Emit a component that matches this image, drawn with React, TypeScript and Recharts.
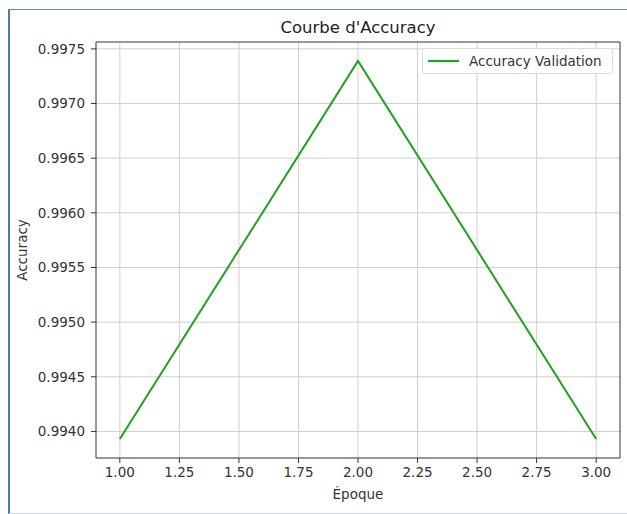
import React from 'react';
import { LineChart, Line, XAxis, YAxis, CartesianGrid, ReferenceLine } from 'recharts';

const epochs = [1, 2, 3];
const accuracyValidation = [0.99393, 0.99739, 0.99393];
const xTicks = [1, 1.25, 1.5, 1.75, 2, 2.25, 2.5, 2.75, 3];
const yTicks = [0.994, 0.9945, 0.995, 0.9955, 0.996, 0.9965, 0.997, 0.9975];
const xDomain = [0.9, 3.1];
const yDomain = [0.993757, 0.997563];
const title = "Courbe d'Accuracy";
const seriesName = 'Accuracy Validation';
const xLabel = 'Époque';
const yLabel = 'Accuracy';

const data = epochs.map((e, i) => ({ epoch: e, acc: accuracyValidation[i] }));

const FONT = '"DejaVu Sans", sans-serif';
const GREEN = '#22a022';
const AXIS = '#333';

const LegendBox = () => (
  <div
    style={{
      position: 'absolute',
      left: 422,
      top: 48,
      boxSizing: 'border-box',
      width: 191,
      height: 26,
      border: '1px solid #dcdcdc',
      borderRadius: 3,
      background: 'rgba(255,255,255,0.85)',
      display: 'flex',
      alignItems: 'center',
      fontFamily: FONT,
      fontSize: 13.5,
      color: '#333',
    }}
  >
    <svg width={46} height={10} style={{ flex: 'none' }}>
      <line x1={5} y1={5} x2={36} y2={5} stroke={GREEN} strokeWidth={2.2} />
    </svg>
    <span style={{ whiteSpace: 'nowrap' }}>{seriesName}</span>
  </div>
);

export default function App() {
  return (
    <div style={{ position: 'absolute', left: 0, top: 0, width: 627, height: 514, background: '#fff', overflow: 'hidden' }}>
      <div
        style={{
          position: 'absolute',
          left: 8,
          top: 9,
          width: 640,
          height: 503,
          borderLeft: '2.5px solid #4a78c2',
          borderTop: '1.5px solid #5d8bd0',
          borderBottom: '1.5px solid #c9d5e6',
        }}
      />
      <div
        style={{
          position: 'absolute',
          left: 96,
          width: 524,
          top: 18,
          textAlign: 'center',
          fontFamily: FONT,
          fontSize: 16.5,
          color: '#222',
        }}
      >
        {title}
      </div>
      <div style={{ position: 'absolute', left: 0, top: 0 }}>
        <LineChart
          width={627}
          height={514}
          data={data}
          margin={{ top: 42, right: 7, bottom: 0, left: 0 }}
        >
          <CartesianGrid stroke="#cfcfcf" strokeWidth={1} horizontalValues={yTicks} verticalValues={xTicks} />
          <XAxis
            dataKey="epoch"
            type="number"
            domain={xDomain}
            ticks={xTicks}
            allowDataOverflow
            tickFormatter={(v: number) => v.toFixed(2)}
            stroke={AXIS}
            tickSize={5}
            tickMargin={4}
            tick={{ fill: '#333', fontSize: 13.5, fontFamily: FONT }}
            height={56}
            label={{
              content: () => (
                <text x={358} y={499} textAnchor="middle" fontFamily={FONT} fontSize={13.5} fill="#333">
                  {xLabel}
                </text>
              ),
            }}
          />
          <YAxis
            type="number"
            domain={yDomain}
            ticks={yTicks}
            allowDataOverflow
            tickFormatter={(v: number) => v.toFixed(4)}
            stroke={AXIS}
            tickSize={5}
            tickMargin={6}
            width={96}
            tick={{ fill: '#333', fontSize: 13.5, fontFamily: FONT }}
            label={{
              content: () => (
                <text
                  x={22}
                  y={250}
                  transform="rotate(-90 22 250)"
                  textAnchor="middle"
                  dominantBaseline="central"
                  fontFamily={FONT}
                  fontSize={13.5}
                  fill="#333"
                >
                  {yLabel}
                </text>
              ),
            }}
          />
          <ReferenceLine y={yDomain[1]} stroke={AXIS} strokeWidth={1} ifOverflow="extendDomain" />
          <ReferenceLine x={xDomain[1]} stroke={AXIS} strokeWidth={1} ifOverflow="extendDomain" />
          <Line
            type="linear"
            dataKey="acc"
            name={seriesName}
            stroke={GREEN}
            strokeWidth={2}
            dot={false}
            isAnimationActive={false}
          />
        </LineChart>
      </div>
      <LegendBox />
    </div>
  );
}
